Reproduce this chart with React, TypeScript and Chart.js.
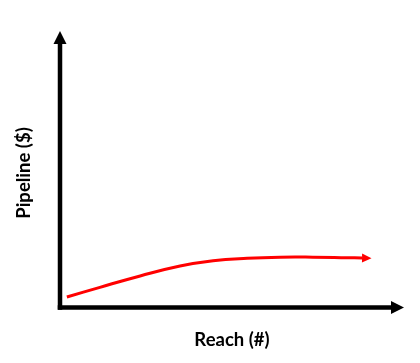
import React, { useEffect, useRef } from "react";
import { Chart, registerables } from "chart.js";

Chart.register(...registerables);

// Data (axes run 0..100 in arbitrary units)
const reachValues = [2.0, 11.6, 23.3, 34.9, 44.5, 54.4, 64.0, 73.5, 83.4, 87.8];
const pipelineValues = [3.8, 7.3, 11.4, 15.0, 16.9, 17.8, 18.2, 18.2, 18.0, 17.9];
const xAxisLabel = "Reach (#)";
const yAxisLabel = "Pipeline ($)";

const arrowAxesPlugin = {
  id: "arrowAxes",
  beforeDatasetsDraw(chart: any) {
    const { ctx, scales } = chart;
    const x = scales.x;
    const y = scales.y;
    const x0 = x.getPixelForValue(x.min);
    const y0 = y.getPixelForValue(y.min);
    const xEnd = x.getPixelForValue(x.max);
    const yEnd = y.getPixelForValue(y.max);
    ctx.save();
    ctx.strokeStyle = "#000";
    ctx.fillStyle = "#000";
    ctx.lineWidth = 4.5;
    ctx.lineCap = "butt";
    // y axis
    ctx.beginPath();
    ctx.moveTo(x0, y0 + 2.25);
    ctx.lineTo(x0, yEnd + 11);
    ctx.stroke();
    ctx.beginPath();
    ctx.moveTo(x0, yEnd);
    ctx.lineTo(x0 - 6.5, yEnd + 13);
    ctx.lineTo(x0 + 6.5, yEnd + 13);
    ctx.closePath();
    ctx.fill();
    // x axis
    ctx.beginPath();
    ctx.moveTo(x0 - 2.25, y0);
    ctx.lineTo(xEnd - 11, y0);
    ctx.stroke();
    ctx.beginPath();
    ctx.moveTo(xEnd, y0);
    ctx.lineTo(xEnd - 13, y0 - 6.5);
    ctx.lineTo(xEnd - 13, y0 + 6.5);
    ctx.closePath();
    ctx.fill();
    // axis titles
    ctx.font = "bold 18.5px Lato";
    ctx.textAlign = "center";
    ctx.textBaseline = "alphabetic";
    ctx.fillText(xAxisLabel, (x0 + xEnd) / 2, y0 + 38);
    ctx.translate(x0 - 30.5, y0 - 134.5);
    ctx.rotate(-Math.PI / 2);
    ctx.fillText(yAxisLabel, 0, 0);
    ctx.restore();
  },
  afterDatasetsDraw(chart: any) {
    const { ctx } = chart;
    const meta = chart.getDatasetMeta(0);
    const pts = meta.data;
    if (!pts || pts.length < 2) return;
    const last = pts[pts.length - 1];
    const prev = pts[pts.length - 2];
    const ang = Math.atan2(last.y - prev.y, last.x - prev.x);
    const len = 9.5;
    const half = 4.5;
    const tipX = last.x + Math.cos(ang) * len;
    const tipY = last.y + Math.sin(ang) * len;
    const nx = -Math.sin(ang);
    const ny = Math.cos(ang);
    ctx.save();
    ctx.fillStyle = "#ff0000";
    ctx.beginPath();
    ctx.moveTo(tipX, tipY);
    ctx.lineTo(last.x + nx * half, last.y + ny * half);
    ctx.lineTo(last.x - nx * half, last.y - ny * half);
    ctx.closePath();
    ctx.fill();
    ctx.restore();
  },
};

export default function App() {
  const canvasRef = useRef<HTMLCanvasElement | null>(null);

  useEffect(() => {
    const canvas = canvasRef.current;
    if (!canvas) return;
    const chart = new Chart(canvas, {
      type: "line",
      data: {
        datasets: [
          {
            data: reachValues.map((v, i) => ({ x: v, y: pipelineValues[i] })),
            borderColor: "#ff0000",
            borderWidth: 3,
            pointRadius: 0,
            tension: 0.45,
            fill: false,
            clip: false as any,
          },
        ],
      },
      options: {
        responsive: false,
        animation: false,
        devicePixelRatio: 1,
        layout: { padding: { left: 60, right: 16, top: 31, bottom: 55.5 } },
        plugins: { legend: { display: false }, tooltip: { enabled: false } },
        scales: {
          x: { type: "linear", min: 0, max: 100, display: false },
          y: { type: "linear", min: 0, max: 100, display: false },
        },
      },
      plugins: [arrowAxesPlugin],
    });
    return () => chart.destroy();
  }, []);

  return (
    <div style={{ position: "absolute", left: 0, top: 0, width: 420, height: 363, background: "#fff" }}>
      <canvas ref={canvasRef} width={420} height={363} />
    </div>
  );
}
